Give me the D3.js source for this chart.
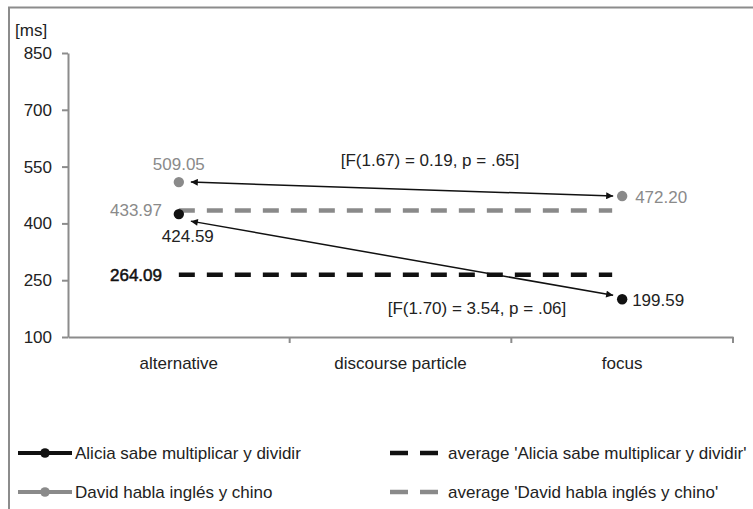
<!DOCTYPE html>
<html>
<head>
<meta charset="utf-8">
<script src="https://cdn.jsdelivr.net/npm/d3@7"></script>
<style>
  html, body { margin: 0; padding: 0; background: #fff; }
  svg { display: block; }
  text { font-family: "Liberation Sans", Arial, sans-serif; font-size: 17px; }
</style>
</head>
<body>
<svg id="chart" width="753" height="509"></svg>
<script>
// ---- data ----
const categories = ["alternative", "discourse particle", "focus"];
const yTicks = [100, 250, 400, 550, 700, 850];
const seriesNames = ["Alicia sabe multiplicar y dividir", "David habla inglés y chino"];
const aliciaValues = [424.59, null, 199.59];
const davidValues = [509.05, null, 472.20];
const averageNames = ["average 'Alicia sabe multiplicar y dividir'", "average 'David habla inglés y chino'"];
const averageValues = [264.09, 433.97];
const annotationTexts = ["[F(1.67) = 0.19, p = .65]", "[F(1.70) = 3.54, p = .06]"];
const arrowFromValues = [509.05, 406];   // value heights at the "alternative" end
const arrowToValues = [472.20, 210];     // value heights at the "focus" end
const annotationValues = [566, 177];     // value heights of the annotation texts

// ---- styles ----
const BLACK = "#111";
const GRAY = "#8a8a8a";
const AXIS = "#8c8c8c";
const TEXT = "#222";

const svg = d3.select("#chart");

// frame
svg.append("rect").attr("x", 9).attr("y", 7.5).attr("width", 800).attr("height", 600)
  .attr("fill", "none").attr("stroke", AXIS).attr("stroke-width", 2);

const x = d3.scaleBand().domain(categories).range([68, 733]).padding(0);
const y = d3.scaleLinear().domain([100, 850]).range([337, 53]);
const cx = c => x(c) + x.bandwidth() / 2;

// y axis
const yAxis = svg.append("g").attr("transform", "translate(68,0)")
  .call(d3.axisLeft(y).tickValues(yTicks).tickSize(6).tickSizeOuter(0).tickPadding(10).tickFormat(d3.format("d")));
yAxis.select(".domain").attr("stroke", AXIS).attr("stroke-width", 2);
yAxis.selectAll(".tick line").attr("stroke", AXIS).attr("stroke-width", 2);
yAxis.selectAll(".tick text").attr("fill", TEXT).style("font-size", "17px")
  .style("font-family", "'Liberation Sans', Arial, sans-serif");

svg.append("text").attr("x", 15).attr("y", 30).attr("dy", "0.35em").attr("fill", TEXT).text("[ms]");

// x axis
const xAxis = svg.append("g").attr("transform", "translate(0,337)")
  .call(d3.axisBottom(x).tickSize(0).tickPadding(20));
xAxis.select(".domain").attr("stroke", AXIS).attr("stroke-width", 2);
xAxis.selectAll(".tick text").attr("fill", TEXT).style("font-size", "17px")
  .style("font-family", "'Liberation Sans', Arial, sans-serif");
xAxis.selectAll("line.bound").data(categories).enter().append("line").attr("class", "bound")
  .attr("x1", c => x(c) + x.bandwidth()).attr("x2", c => x(c) + x.bandwidth())
  .attr("y1", 0).attr("y2", 6).attr("stroke", AXIS).attr("stroke-width", 2);

// average dashed lines
const xStart = cx(categories[0]);
const xEnd = cx(categories[2]) - 10;
const avgColors = [BLACK, GRAY];
averageValues.forEach((v, i) => {
  svg.append("line").attr("x1", xStart).attr("x2", xEnd).attr("y1", y(v)).attr("y2", y(v))
    .attr("stroke", avgColors[i]).attr("stroke-width", 4.5).attr("stroke-dasharray", "16,12");
});

// arrow markers
const defs = svg.append("defs");
["arrowEnd", "arrowStart"].forEach((id, k) => {
  defs.append("marker").attr("id", id).attr("viewBox", "0 0 10 10")
    .attr("refX", k === 0 ? 10 : 0).attr("refY", 5)
    .attr("markerWidth", 8).attr("markerHeight", 7).attr("markerUnits", "userSpaceOnUse")
    .attr("orient", "auto")
    .append("path").attr("d", k === 0 ? "M0,0 L10,5 L0,10 Z" : "M10,0 L0,5 L10,10 Z").attr("fill", BLACK);
});

arrowFromValues.forEach((v, i) => {
  svg.append("line")
    .attr("x1", cx(categories[0]) + 12).attr("y1", y(v))
    .attr("x2", cx(categories[2]) - 9).attr("y2", y(arrowToValues[i]))
    .attr("stroke", BLACK).attr("stroke-width", 1.5)
    .attr("marker-start", "url(#arrowStart)").attr("marker-end", "url(#arrowEnd)");
});

// annotations
svg.append("text").attr("x", 430).attr("y", y(annotationValues[0])).attr("dy", "0.35em")
  .attr("text-anchor", "middle").attr("fill", TEXT).text(annotationTexts[0]);
svg.append("text").attr("x", 477).attr("y", y(annotationValues[1])).attr("dy", "0.35em")
  .attr("text-anchor", "middle").attr("fill", TEXT).text(annotationTexts[1]);

// points
const series = [
  { name: seriesNames[0], values: aliciaValues, color: BLACK, text: TEXT },
  { name: seriesNames[1], values: davidValues, color: GRAY, text: GRAY }
];
series.forEach(s => {
  svg.selectAll(null).data(categories.map((c, i) => ({ c, v: s.values[i] })).filter(d => d.v != null))
    .enter().append("circle")
    .attr("cx", d => cx(d.c)).attr("cy", d => y(d.v)).attr("r", 5.2).attr("fill", s.color);
});

// value labels
const fmt = d3.format(".2f");
// Alicia
svg.append("text").attr("x", cx(categories[0]) + 9).attr("y", y(aliciaValues[0]) + 22).attr("dy", "0.35em")
  .attr("text-anchor", "middle").attr("fill", TEXT).text(fmt(aliciaValues[0]));
svg.append("text").attr("x", cx(categories[2]) + 10).attr("y", y(aliciaValues[2]) + 1).attr("dy", "0.35em")
  .attr("fill", TEXT).text(fmt(aliciaValues[2]));
// David
svg.append("text").attr("x", cx(categories[0])).attr("y", y(davidValues[0]) - 18).attr("dy", "0.35em")
  .attr("text-anchor", "middle").attr("fill", GRAY).text(fmt(davidValues[0]));
svg.append("text").attr("x", cx(categories[2]) + 13).attr("y", y(davidValues[2]) + 1).attr("dy", "0.35em")
  .attr("fill", GRAY).text(fmt(davidValues[2]));
// averages
svg.append("text").attr("x", 162).attr("y", y(averageValues[0])).attr("dy", "0.35em")
  .attr("text-anchor", "end").attr("fill", "#111").attr("stroke", "#111").attr("stroke-width", 0.5)
  .text(fmt(averageValues[0]));
svg.append("text").attr("x", 162).attr("y", y(averageValues[1])).attr("dy", "0.35em")
  .attr("text-anchor", "end").attr("fill", GRAY).text(fmt(averageValues[1]));

// legend
const legendRows = [453, 492];
const legColors = [BLACK, GRAY];
seriesNames.forEach((n, i) => {
  const g = svg.append("g").attr("transform", `translate(0,${legendRows[i]})`);
  g.append("line").attr("x1", 18).attr("x2", 72).attr("y1", 0).attr("y2", 0)
    .attr("stroke", legColors[i]).attr("stroke-width", 4);
  g.append("circle").attr("cx", 45).attr("cy", 0).attr("r", 4.8).attr("fill", legColors[i]);
  g.append("text").attr("x", 75).attr("y", 0).attr("dy", "0.35em").attr("fill", TEXT).text(n);
});
averageNames.forEach((n, i) => {
  const g = svg.append("g").attr("transform", `translate(0,${legendRows[i]})`);
  g.append("line").attr("x1", 390).attr("x2", 438).attr("y1", 0).attr("y2", 0)
    .attr("stroke", legColors[i]).attr("stroke-width", 4.5).attr("stroke-dasharray", "18,12");
  g.append("text").attr("x", 448).attr("y", 0).attr("dy", "0.35em").attr("fill", TEXT).text(n);
});
</script>
</body>
</html>
